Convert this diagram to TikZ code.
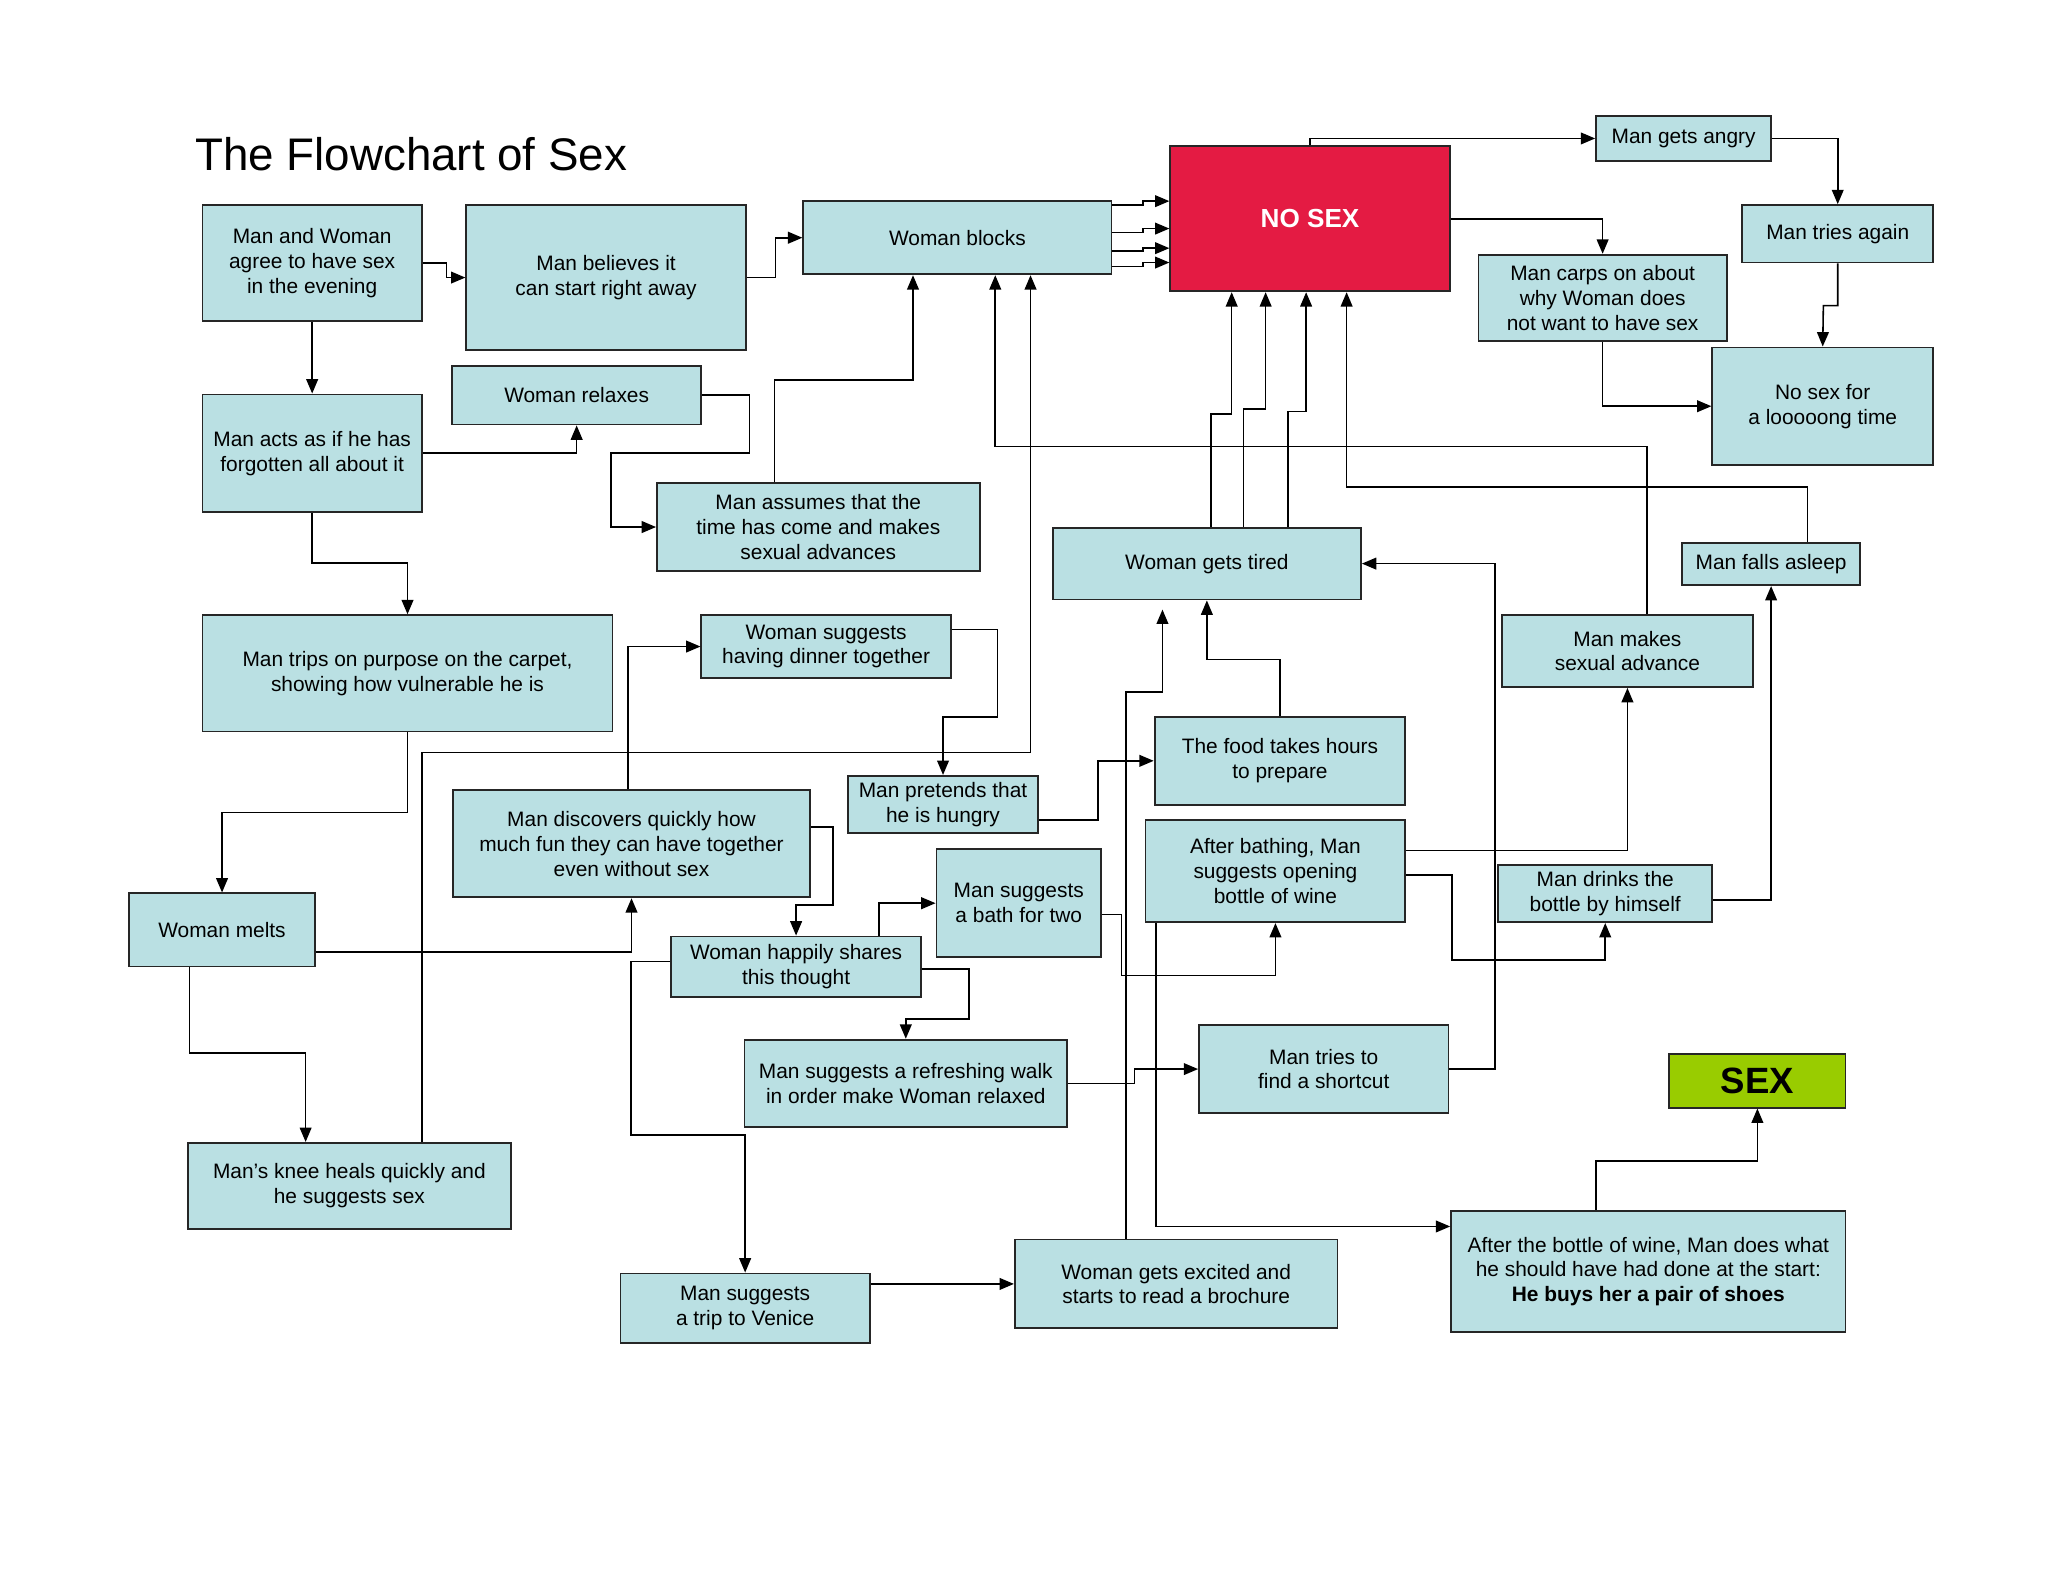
\documentclass[tikz,border=0pt]{standalone}
\usepackage{fontspec}
\setmainfont{Liberation Sans}
\usetikzlibrary{arrows.meta}
\definecolor{boxblue}{RGB}{186,224,227}
\definecolor{nored}{RGB}{228,27,67}
\definecolor{yesgreen}{RGB}{153,204,0}

\begin{document}
\begin{tikzpicture}[x=1pt,y=-1pt,>={Triangle[length=11pt,width=9pt]},
  box/.style={draw=black!85,line width=1.4pt,fill=boxblue,align=center,inner sep=0pt,
    font=\fontsize{16}{19}\selectfont},
  link/.style={->,line width=1.2pt}]
  \useasboundingbox (0,0) rectangle (1568,1211);
  \node[anchor=west,font=\fontsize{35}{40}\selectfont] (title) at (146,118) {The Flowchart of Sex};

  % top row
  \node[box,minimum width=168,minimum height=89] (agree) at (239,201.5) {Man and Woman\\agree to have sex\\in the evening};
  \node[box,minimum width=214,minimum height=111] (believes) at (464,212.5) {Man believes it\\can start right away};
  \node[box,minimum width=236,minimum height=56] (blocks) at (733,182) {Woman blocks};
  \node[box,fill=nored,text=white,minimum width=214,minimum height=111,font=\fontsize{20}{24}\selectfont\bfseries] (nosex) at (1003,167.5) {NO SEX};
  \node[box,minimum width=134,minimum height=34] (angry) at (1289,106) {Man gets angry};
  \node[box,minimum width=146,minimum height=44] (again) at (1407,179) {Man tries again};
  \node[box,minimum width=190,minimum height=66] (carps) at (1227,228) {Man carps on about\\why Woman does\\not want to have sex};
  \node[box,minimum width=169,minimum height=90] (longtime) at (1395.5,311) {No sex for\\a looooong time};

  % middle
  \node[box,minimum width=191,minimum height=45] (relaxes) at (441.5,302.5) {Woman relaxes};
  \node[box,minimum width=168,minimum height=90] (forgot) at (239,347) {Man acts as if he has\\forgotten all about it};
  \node[box,minimum width=247,minimum height=67] (assumes) at (626.5,403.5) {Man assumes that the\\time has come and makes\\sexual advances};
  \node[box,minimum width=236,minimum height=55] (tired) at (924,431.5) {Woman gets tired};
  \node[box,minimum width=136,minimum height=32] (asleep) at (1356,432) {Man falls asleep};
  \node[box,minimum width=314,minimum height=89] (trips) at (312,515.5) {Man trips on purpose on the carpet,\\showing how vulnerable he is};
  \node[box,minimum width=191,minimum height=48] (dinner) at (632.5,495) {Woman suggests\\having dinner together};
  \node[box,minimum width=192,minimum height=55] (advance) at (1246,498.5) {Man makes\\sexual advance};
  \node[box,minimum width=192,minimum height=67] (food) at (980,582.5) {The food takes hours\\to prepare};
  \node[box,minimum width=273,minimum height=82] (discovers) at (483.5,646) {Man discovers quickly how\\much fun they can have together\\even without sex};
  \node[box,minimum width=146,minimum height=44] (hungry) at (722,616) {Man pretends that\\he is hungry};
  \node[box,minimum width=126,minimum height=83] (bath) at (780,691.5) {Man suggests\\a bath for two};
  \node[box,minimum width=199,minimum height=78] (wine) at (976.5,667) {After bathing, Man\\suggests opening\\bottle of wine};
  \node[box,minimum width=164,minimum height=44] (drinks) at (1229,684) {Man drinks the\\bottle by himself};
  \node[box,minimum width=142,minimum height=56] (melts) at (170,712) {Woman melts};
  \node[box,minimum width=191,minimum height=46] (shares) at (609.5,740) {Woman happily shares\\this thought};

  % bottom
  \node[box,minimum width=247,minimum height=67] (walk) at (693.5,829.5) {Man suggests a refreshing walk\\in order make Woman relaxed};
  \node[box,minimum width=191,minimum height=67] (shortcut) at (1013.5,818.5) {Man tries to\\find a shortcut};
  \node[box,fill=yesgreen,minimum width=135,minimum height=41,font=\fontsize{28}{32}\selectfont\bfseries] (sex) at (1345.5,827.5) {SEX};
  \node[box,minimum width=247,minimum height=66] (knee) at (267.5,908) {Man’s knee heals quickly and\\he suggests sex};
  \node[box,minimum width=191,minimum height=53] (venice) at (570.5,1001.5) {Man suggests\\a trip to Venice};
  \node[box,minimum width=247,minimum height=68] (excited) at (900.5,983) {Woman gets excited and\\starts to read a brochure};
  \node[box,minimum width=302,minimum height=93] (shoes) at (1262,973.5) {After the bottle of wine, Man does what\\he should have had done at the start:\\\textbf{He buys her a pair of shoes}};

  % connectors
  \draw[link] (agree.east) -- ++(18,0) |- (believes.west);
  \draw[link] (agree) -- (forgot);
  \draw[link] (believes.east) -- ++(22,0) |- (blocks.west);
  \foreach \ya/\yb in {157/154,178/175,192/190,204/201}
    \draw[link] (blocks.east |- 0,\ya) -- (875,\ya) |- (nosex.west |- 0,\yb);
  \draw[link] (nosex.north) |- (angry.west);
  \draw[link] (angry.east) -| (again.north);
  \draw[link] (nosex.east) -| (carps.north);
  \draw[link] (again.south) |- (1396,234) -- (longtime.north);
  \draw[link] (carps.south) |- (longtime.west);
  \draw[link] (forgot.east) -| (relaxes.south);
  \draw[link] (relaxes.east) -- ++(36,0) |- (468,347) |- (assumes.west);
  \draw[link] (assumes.north -| 593,0) |- (699,291) -- (blocks.south -| 699,0);
  \draw[link] (forgot.south) |- (312,431) -- (trips.north);
  \draw[link] (trips.south) |- (170,622) -- (melts.north);
  \draw[link] (melts.east |- 0,729) -| (discovers.south);
  \draw[link] (melts.south -| 145,0) |- (234,806) -- (knee.north -| 234,0);
  \draw[link] (knee.north -| 323,0) |- (789,576) -- (blocks.south -| 789,0);
  \draw[link] (discovers.north -| 481,0) |- (dinner.west);
  \draw[link] (discovers.east |- 0,633) -- ++(17,0) |- (609.5,693) -- (shares.north);
  \draw[link] (dinner.east |- 0,482) -- ++(35,0) |- (722,549) -- (hungry.north);
  \draw[link] (hungry.east |- 0,628) -- ++(45,0) |- (food.west);
  \draw[link] (food.north) |- (924,505) -- (tired.south);
  \draw[link] (shares.north -| 673,0) |- (bath.west);
  \draw[link] (shares.east |- 0,742) -- ++(36,0) |- (693.5,780) -- (walk.north);
  \draw[link] (shares.west |- 0,736) -- ++(-30,0) |- (570.5,869) -- (venice.north);
  \draw[link] (venice.east |- excited.west) -- (excited.west);
  \draw[link,shorten >=7pt] (excited.north -| 862,0) |- (890,530) -- (tired.south -| 890,0);
  \draw[link] (bath.east |- 0,700) -- ++(15,0) |- (976.5,747) -- (wine.south);
  \draw[link] (wine.south -| 885,0) |- (shoes.west |- 0,939);
  \draw[link] (wine.east |- 0,651) -| (advance.south);
  \draw[link] (wine.east |- 0,670) -- ++(35,0) |- (1229,735) -- (drinks.south);
  \draw[link] (drinks.east |- 0,689) -| (asleep.south);
  \draw[link] (walk.east) -- ++(51,0) |- (shortcut.west);
  \draw[link] (shortcut.east) -- ++(35,0) |- (tired.east);
  \draw[link] (tired.north -| 927,0) |- (943,317) -- (nosex.south -| 943,0);
  \draw[link] (tired.north -| 952,0) |- (969,313) -- (nosex.south -| 969,0);
  \draw[link] (tired.north -| 986,0) |- (1000,315) -- (nosex.south -| 1000,0);
  \draw[link] (asleep.north -| 1384,0) |- (1031,373) -- (nosex.south -| 1031,0);
  \draw[link] (advance.north -| 1261,0) |- (762,342) -- (blocks.south -| 762,0);
  \draw[link] (shoes.north -| 1222,0) |- (1345.5,889) -- (sex.south);
\end{tikzpicture}
\end{document}
